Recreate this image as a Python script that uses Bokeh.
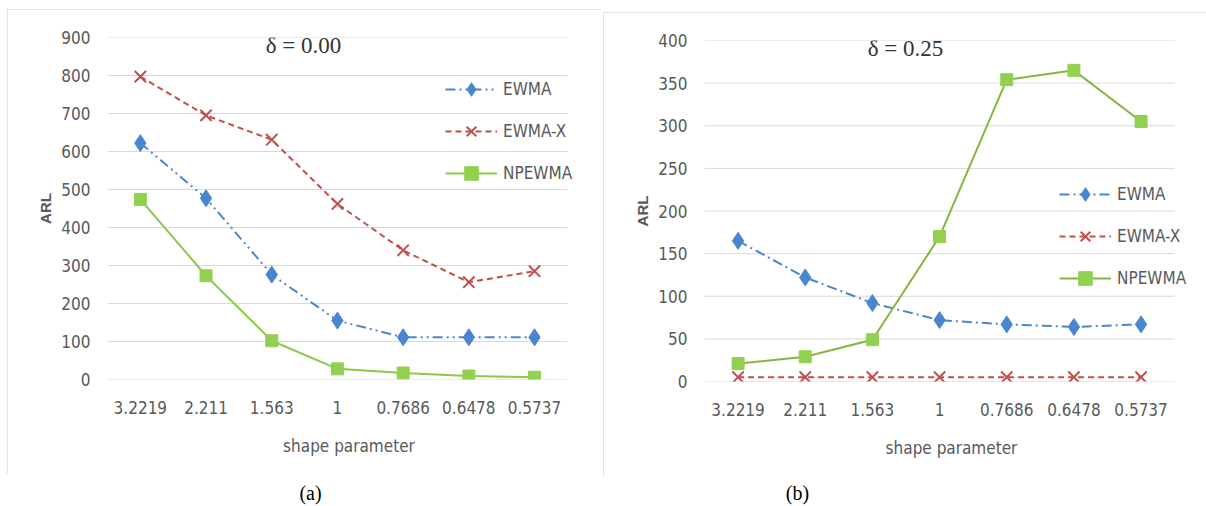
from bokeh.plotting import figure
from bokeh.layouts import row, column
from bokeh.models import (Range1d, Legend, LegendItem, Label, FixedTicker,
                          SingleIntervalTicker)
from bokeh.embed import file_html
from bokeh.resources import INLINE

# ---------------- data ----------------
shape = ["3.2219", "2.211", "1.563", "1", "0.7686", "0.6478", "0.5737"]

a_ewma = [622, 477, 276, 155, 111, 111, 111]
a_ewmax = [797, 695, 631, 462, 340, 256, 285]
a_npewma = [474, 273, 102, 28, 17, 9, 6]

b_ewma = [165, 122, 92, 72, 67, 64, 67]
b_ewmax = [5, 5, 5, 5, 5, 5, 5]
b_npewma = [21, 29, 49, 170, 354, 365, 305]

series_names = ["EWMA", "EWMA-X", "NPEWMA"]
titles = ["\u03b4 = 0.00", "\u03b4 = 0.25"]
captions = ["(a)", "(b)"]

NARROW = "'Liberation Sans Narrow', 'DejaVu Sans Condensed', sans-serif"
SERIF = "'Liberation Serif', serif"
GREY = "#595959"
BLUE = "#4a86d0"
RED = "#c0504d"
GREEN = "#92d050"

xs = list(range(len(shape)))


def panel(W, H, margin, fl, fr, ft, fb, xend, ymax, ystep, ewma, ewmax, npew,
          ewma_dash, npline, title, title_xy, leg_loc):
    p = figure(width=W, height=H, x_range=Range1d(-0.5, xend),
               y_range=Range1d(0, ymax), output_backend="svg",
               toolbar_location=None, min_border_left=fl, min_border_right=fr,
               min_border_top=ft, min_border_bottom=fb)
    p.margin = margin
    p.styles = {"outline": "2px solid #d9d9d9", "outline-offset": "-2px"}
    p.outline_line_color = None
    p.xgrid.grid_line_color = None
    p.ygrid.grid_line_color = None
    ticks = list(range(0, ymax + 1, ystep))
    # horizontal gridlines spanning the category band only
    p.segment(x0=[-0.5] * len(ticks), x1=[len(shape) - 0.5] * len(ticks),
              y0=ticks, y1=ticks, line_color="#d9d9d9", line_width=1)
    p.yaxis.ticker = SingleIntervalTicker(interval=ystep)
    p.xaxis.ticker = FixedTicker(ticks=xs)
    p.xaxis.major_label_overrides = {i: s for i, s in zip(xs, shape)}
    for ax in (p.xaxis[0], p.yaxis[0]):
        ax.axis_line_color = None
        ax.major_tick_line_color = None
        ax.minor_tick_line_color = None
        ax.major_tick_out = 0
        ax.major_tick_in = 0
        ax.major_label_text_font = NARROW
        ax.major_label_text_font_size = "17px"
        ax.major_label_text_color = GREY
    p.yaxis.major_label_standoff = 13
    p.xaxis.major_label_standoff = 21
    p.yaxis.axis_label = "ARL"
    p.yaxis.axis_label_text_font = "'Liberation Sans', sans-serif"
    p.yaxis.axis_label_text_font_style = "bold"
    p.yaxis.axis_label_text_font_size = "15px"
    p.yaxis.axis_label_text_color = GREY
    p.yaxis.axis_label_standoff = 4
    p.xaxis.axis_label = "shape parameter"
    p.xaxis.axis_label_text_font = NARROW
    p.xaxis.axis_label_text_font_style = "normal"
    p.xaxis.axis_label_text_font_size = "17px"
    p.xaxis.axis_label_text_color = GREY
    p.xaxis.axis_label_standoff = 19

    l1 = p.line(xs, ewma, line_color=BLUE, line_width=2, line_dash=ewma_dash)
    m1 = p.scatter(xs, ewma, marker="diamond", size=17, fill_color=BLUE,
                   line_color=BLUE)
    l2 = p.line(xs, ewmax, line_color=RED, line_width=2, line_dash="6 4")
    m2 = p.scatter(xs, ewmax, marker="x", size=16, line_color=RED,
                   line_width=2)
    l3 = p.line(xs, npew, line_color=npline, line_width=2)
    m3 = p.scatter(xs, npew, marker="square", size=12, fill_color=GREEN,
                   line_color=GREEN)

    leg = Legend(items=[LegendItem(label=series_names[0], renderers=[l1, m1]),
                        LegendItem(label=series_names[1], renderers=[l2, m2]),
                        LegendItem(label=series_names[2], renderers=[l3, m3])],
                 location=leg_loc, border_line_color=None,
                 background_fill_alpha=0, padding=0, margin=0,
                 glyph_width=52, glyph_height=34, label_height=20,
                 spacing=8, label_standoff=6,
                 label_text_font=NARROW, label_text_font_size="17px",
                 label_text_color=GREY)
    p.add_layout(leg)

    p.add_layout(Label(x=title_xy[0], y=title_xy[1], x_units="screen",
                       y_units="screen", text=title, text_font=SERIF,
                       text_font_size="23px", text_color="#333333",
                       text_align="center", text_baseline="middle"))
    return p


pa = panel(594, 465, (9, 0, 0, 7), 100, 11, 28, 95, 6.852, 900, 100,
           a_ewma, a_ewmax, a_npewma, "10 4 2 4 2 4", "#8cc84a",
           titles[0], (196, 334), (338, 189))
pb = panel(603, 464, (12, 0, 0, 2), 101, 8, 28, 95, 6.855, 400, 50,
           b_ewma, b_ewmax, b_npewma, "10 4 2 4", "#86b53e",
           titles[1], (201, 333), (355, 86))

# caption strip below the two panels
pc = figure(width=1206, height=30, x_range=Range1d(0, 1), y_range=Range1d(0, 1),
            output_backend="svg", toolbar_location=None, min_border=0,
            x_axis_location=None, y_axis_location=None)
pc.outline_line_color = None
pc.xgrid.grid_line_color = None
pc.ygrid.grid_line_color = None
for cap, cx in zip(captions, (310, 797)):
    pc.add_layout(Label(x=cx, y=14, x_units="screen", y_units="screen",
                        text=cap, text_font=SERIF, text_font_size="20px",
                        text_color="#000000", text_align="center",
                        text_baseline="middle"))

layout = column(row(pa, pb, spacing=0), pc, spacing=0)
open("out.html", "w").write(file_html(layout, INLINE))
